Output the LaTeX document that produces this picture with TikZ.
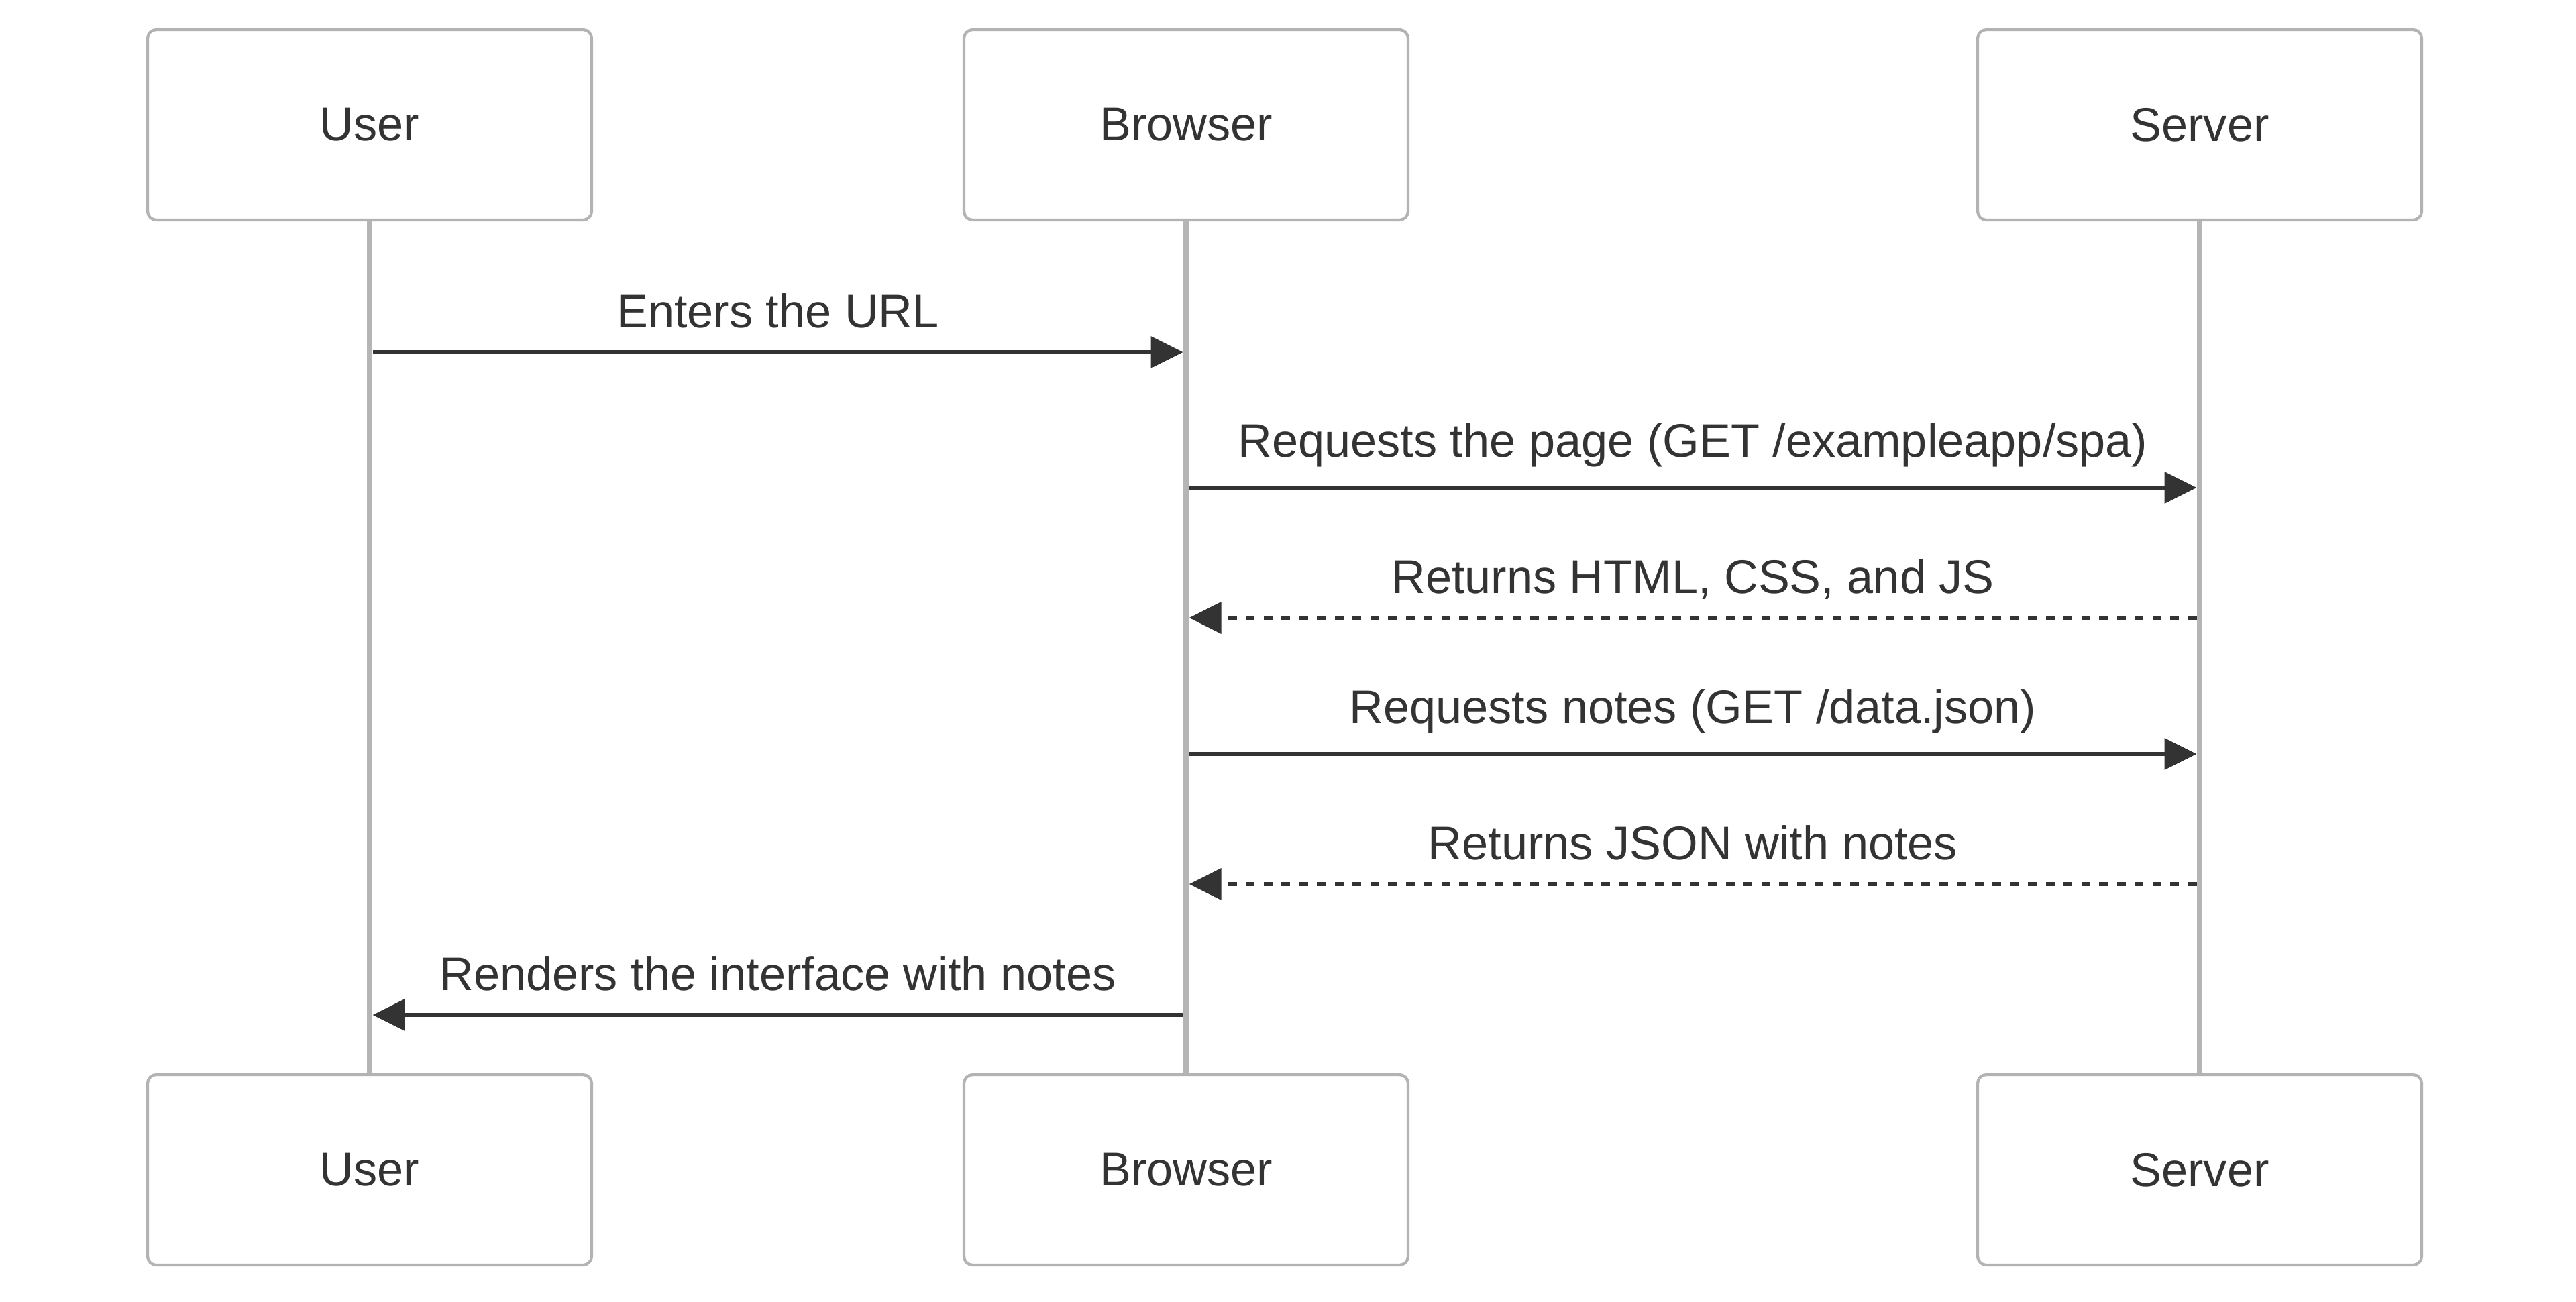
\documentclass[tikz,border=0pt]{standalone}
\usepackage{fontspec}
\setmainfont{Liberation Sans}
\usetikzlibrary{arrows.meta,calc}

\definecolor{testo}{HTML}{333333}
\definecolor{bordo}{HTML}{B3B3B3}
\definecolor{vita}{HTML}{B5B5B5}

\begin{document}
\begin{tikzpicture}[
		attore/.style={draw=bordo, line width=1.2pt, rounded corners=0.13cm, fill=white,
			minimum width=6.62cm, minimum height=2.84cm, inner sep=0pt, text=testo,
			font=\fontsize{20}{24}\selectfont},
		lineavita/.style={line width=2.5pt, draw=vita},
		messaggio/.style={line width=1.9pt, draw=testo, line cap=butt,
			shorten <=0.045cm, shorten >=0.045cm,
			-{Triangle[length=0.48cm, width=0.46cm]}},
		risposta/.style={messaggio, dash pattern=on 0.13cm off 0.135cm},
		etich/.style={anchor=base, inner sep=0pt, text=testo, font=\fontsize{20}{24}\selectfont},
		]
		
		\useasboundingbox (0,0) rectangle (38.4,-19.4);
		
		%% =========================================================
		%% partecipanti (sopra e sotto)
		%% =========================================================
		\foreach \n/\x/\t in {U/5.51/User, B/17.68/Browser, S/32.79/Server}{
			\node[attore] (\n T) at (\x,-1.86) {\t};
			\node[attore] (\n B) at (\x,-17.44) {\t};}
		
		%% linee di vita
		\foreach \n in {U,B,S}
		\draw[lineavita] (\n T.south) -- (\n B.north);
		
		%% punti di aggancio dei messaggi
		\foreach \k/\y in {1/5.25, 2/7.27, 3/9.21, 4/11.24, 5/13.18, 6/15.13}{
			\coordinate (U\k) at (UT.center |- 0,-\y);
			\coordinate (B\k) at (BT.center |- 0,-\y);
			\coordinate (S\k) at (ST.center |- 0,-\y);}
		
		%% =========================================================
		%% messaggi
		%% =========================================================
		\draw[messaggio] (U1) -- (B1);
		\draw[messaggio] (B2) -- (S2);
		\draw[risposta]  (S3) -- (B3);
		\draw[messaggio] (B4) -- (S4);
		\draw[risposta]  (S5) -- (B5);
		\draw[messaggio] (B6) -- (U6);
		
		%% etichette
		\node[etich] (m1) at ($(U1)!0.5!(B1)+(0,0.37)$) {Enters the URL};
		\node[etich] (m2) at ($(B2)!0.5!(S2)+(0,0.46)$) {Requests the page (GET /exampleapp/spa)};
		\node[etich] (m3) at ($(B3)!0.5!(S3)+(0,0.37)$) {Returns HTML, CSS, and JS};
		\node[etich] (m4) at ($(B4)!0.5!(S4)+(0,0.46)$) {Requests notes (GET /data.json)};
		\node[etich] (m5) at ($(B5)!0.5!(S5)+(0,0.37)$) {Returns JSON with notes};
		\node[etich] (m6) at ($(U6)!0.5!(B6)+(0,0.37)$) {Renders the interface with notes};
		
\end{tikzpicture}
\end{document}
